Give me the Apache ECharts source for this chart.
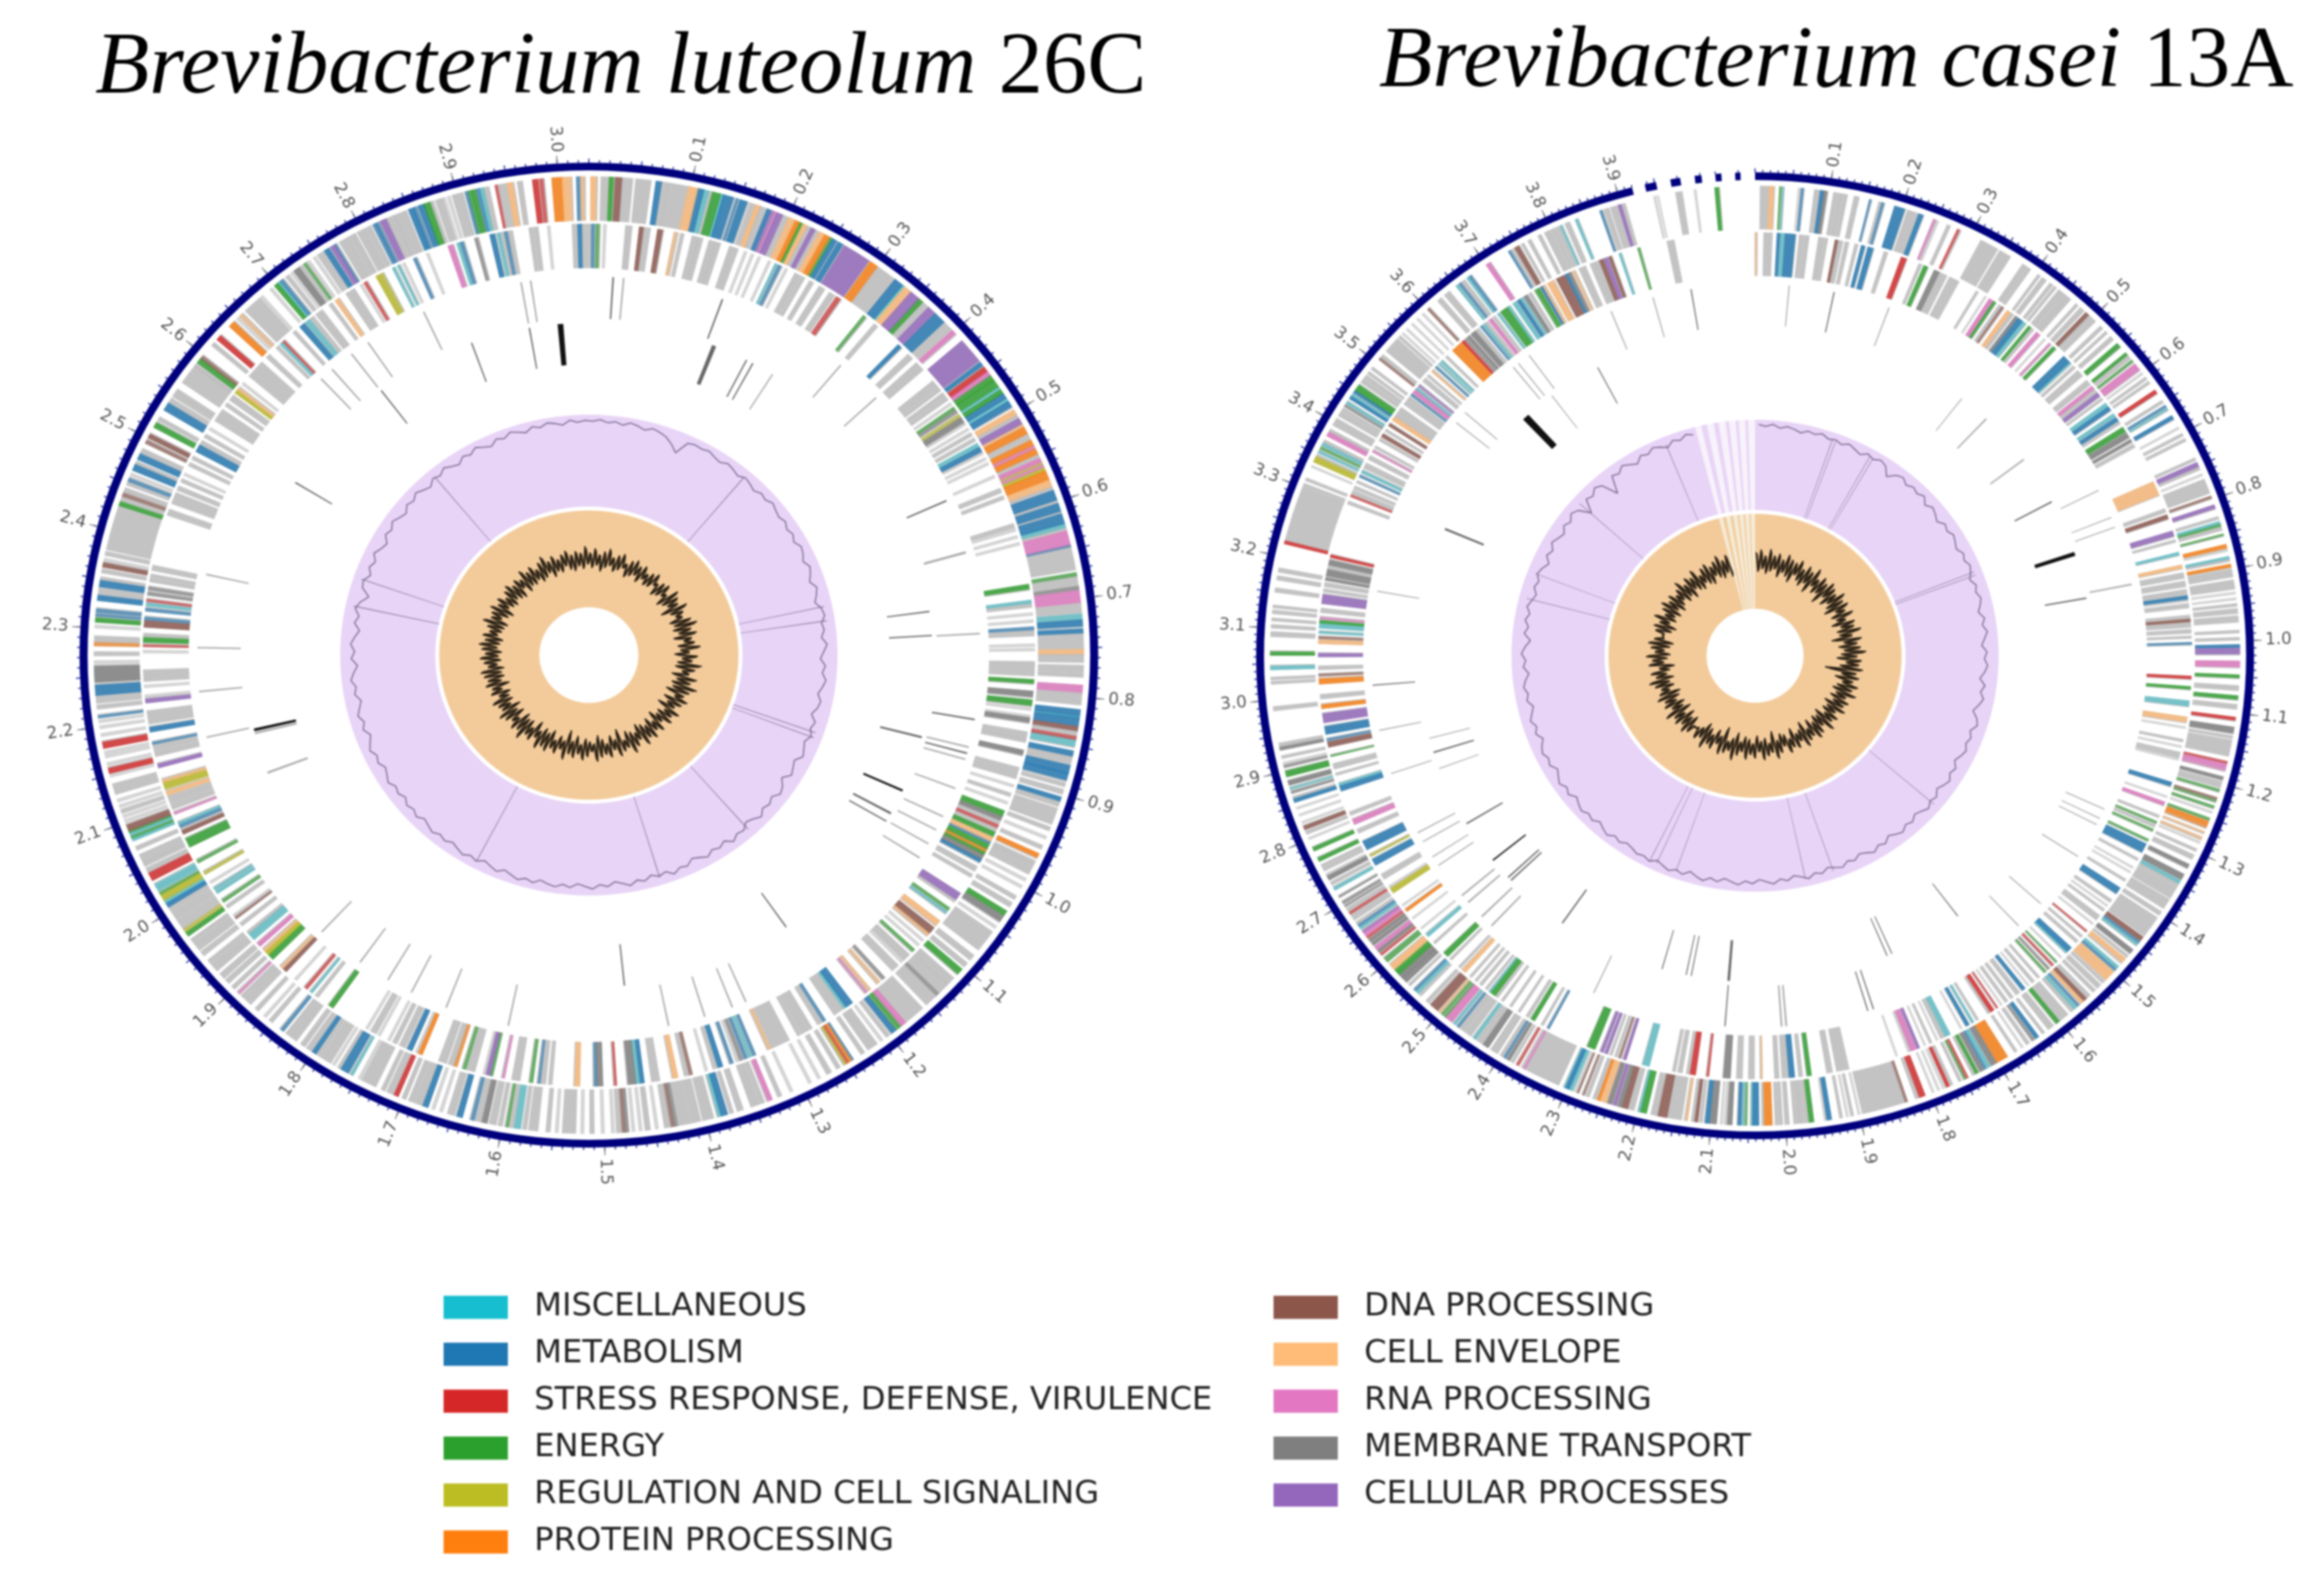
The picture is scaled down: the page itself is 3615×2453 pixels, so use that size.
<!DOCTYPE html>
<html><head><meta charset="utf-8">
<style>html,body{margin:0;background:#fff}#c{width:3615px;height:2453px;filter:blur(1.4px)}</style>
<script src="https://cdn.jsdelivr.net/npm/echarts@6/dist/echarts.min.js"></script>
</head><body><div id="c"></div>
<script>
const G=0,M=1,B=2,S=3,E=4,R=5,P=6,D=7,C=8,N=9,T=10,U=11;
const categories=['Unassigned','MISCELLANEOUS','METABOLISM','STRESS RESPONSE, DEFENSE, VIRULENCE','ENERGY','REGULATION AND CELL SIGNALING','PROTEIN PROCESSING','DNA PROCESSING','CELL ENVELOPE','RNA PROCESSING','MEMBRANE TRANSPORT','CELLULAR PROCESSES'];
const catColors=['#bdbdbd','#17becf','#1f77b4','#d62728','#2ca02c','#bcbd22','#ff7f0e','#8c564b','#ffbb78','#e377c2','#7f7f7f','#9467bd'];
const legendLeft=[1,2,3,4,5,6], legendRight=[7,8,9,10,11];
const L_TICKS=['0.1','0.2','0.3','0.4','0.5','0.6','0.7','0.8','0.9','1.0','1.1','1.2','1.3','1.4','1.5','1.6','1.7','1.8','1.9','2.0','2.1','2.2','2.3','2.4','2.5','2.6','2.7','2.8','2.9','3.0'];
const R_TICKS=['0.1','0.2','0.3','0.4','0.5','0.6','0.7','0.8','0.9','1.0','1.1','1.2','1.3','1.4','1.5','1.6','1.7','1.8','1.9','2.0','2.1','2.2','2.3','2.4','2.5','2.6','2.7','2.8','2.9','3.0','3.1','3.2','3.3','3.4','3.5','3.6','3.7','3.8','3.9'];
const L_CONTIGS=[[0,3030]];
const R_CONTIGS=[[0,3920],[3937,3952],[3971,3984],[4003,4012],[4030,4038],[4056,4063]];
// start kb, length kb, category
const L_OUTER=[2,5,C,12,6,G,20,4,E,26,6,D,32,10,G,46,14,G,66,5,B,71,6,G,78,20,G,98,9,C,107,6,B,113,5,M,118,3,G,122,8,E,130,3,M,133,10,B,146,2,B,150,7,B,160,6,G,166,4,C,170,6,G,178,4,B,182,3,U,185,3,N,188,6,U,195,6,G,201,6,C,207,5,P,212,4,E,216,4,C,220,5,G,225,4,U,229,5,G,234,5,C,239,6,P,245,3,E,248,5,B,255,5,B,262,28,U,292,8,P,300,22,G,322,9,B,331,3,M,334,8,C,342,10,U,352,5,E,358,5,G,365,8,U,374,12,B,388,8,G,398,4,N,412,26,U,440,4,B,446,6,S,452,4,N,456,6,E,462,8,E,470,4,M,474,4,E,478,6,B,484,4,M,488,6,B,498,5,C,503,5,G,508,6,U,514,3,C,518,7,P,525,8,G,533,6,P,539,3,N,542,6,P,548,5,G,553,4,N,557,3,R,560,3,N,563,4,R,567,10,P,577,6,C,583,5,G,588,10,B,598,4,G,602,8,B,610,3,G,613,10,B,623,4,M,627,4,G,631,14,N,645,2,B,648,22,G,674,3,E,677,12,G,688,3,T,692,12,N,706,8,G,716,5,M,722,6,B,731,4,B,737,14,G,752,4,C,756,8,G,768,6,G,776,3,G,788,7,N,797,10,G,813,6,B,819,2,M,821,8,B,830,4,D,834,6,G,840,3,S,843,7,M,855,5,B,860,8,G,870,8,B,878,7,B,888,3,G,895,4,G,903,4,B,908,4,G,915,16,G,935,3,G,945,2,G,955,3,G,964,4,P,972,3,G,976,10,G,992,2,G,1000,2,G,1012,3,G,1020,4,G,1030,5,E,1036,6,T,1048,2,G,1055,22,G,1085,5,G,1095,4,G,1103,6,E,1115,8,G,1124,10,G,1136,3,T,1140,12,G,1158,22,G,1180,5,N,1185,3,E,1188,3,E,1192,5,B,1200,3,G,1208,2,G,1215,10,G,1230,3,G,1243,2,B,1245,3,P,1248,3,S,1251,2,R,1258,3,G,1268,4,G,1280,2,G,1290,2,G,1310,2,G,1322,3,G,1332,4,N,1340,3,G,1345,8,G,1362,5,G,1372,3,G,1378,6,B,1384,3,M,1392,10,G,1405,8,G,1415,12,G,1428,3,T,1431,3,D,1434,6,G,1447,2,G,1455,4,G,1463,2,G,1470,2,G,1476,3,T,1479,3,D,1482,5,G,1490,2,G,1500,2,G,1510,3,G,1520,2,G,1528,12,G,1545,2,G,1553,3,G,1565,8,G,1576,3,G,1582,6,M,1590,3,G,1594,2,E,1600,3,G,1606,6,G,1615,5,T,1622,4,G,1628,3,B,1640,5,B,1648,6,G,1660,2,G,1668,2,G,1675,5,B,1682,6,G,1690,4,G,1698,3,G,1706,4,S,1712,5,G,1720,3,G,1730,14,G,1746,2,G,1755,2,M,1760,8,B,1768,3,G,1775,2,G,1780,10,G,1792,3,G,1797,4,B,1803,4,G,1810,4,G,1820,12,G,1836,3,B,1850,3,G,1858,2,G,1868,3,G,1878,12,G,1893,2,N,1900,3,G,1908,4,G,1915,5,G,1925,8,G,1935,3,G,1945,4,G,1952,8,G,1962,3,G,1970,4,E,1975,3,R,1980,8,G,1990,8,G,2000,5,G,2005,4,B,2009,4,M,2013,6,R,2019,3,E,2024,3,M,2028,3,M,2036,8,S,2046,3,G,2052,3,G,2056,8,G,2070,3,G,2080,3,M,2083,2,E,2086,3,M,2089,2,E,2091,6,D,2100,2,G,2105,2,G,2110,3,G,2116,2,G,2122,2,G,2130,10,G,2148,2,G,2152,5,S,2160,2,G,2168,2,G,2172,2,G,2178,6,S,2190,2,G,2198,2,G,2204,2,G,2209,2,B,2218,3,G,2224,8,G,2232,10,B,2245,16,T,2264,2,G,2272,3,G,2282,3,P,2287,4,G,2300,2,G,2306,4,E,2312,2,B,2316,3,B,2328,5,B,2335,6,G,2342,6,B,2348,3,G,2356,3,G,2362,4,D,2368,2,G,2374,3,G,2380,46,G,2426,4,E,2432,4,G,2436,3,D,2440,4,G,2448,3,G,2452,3,B,2458,2,G,2464,6,B,2470,3,G,2476,6,B,2484,3,G,2494,3,D,2500,4,D,2512,5,E,2520,3,G,2532,8,B,2542,3,G,2548,4,G,2553,3,G,2565,20,G,2585,4,G,2590,5,E,2595,3,D,2612,3,G,2620,5,S,2638,6,P,2648,2,G,2652,3,C,2660,18,G,2680,2,G,2692,2,G,2698,4,E,2702,3,M,2705,3,B,2712,3,G,2718,2,G,2722,6,T,2728,4,G,2734,2,E,2738,2,G,2745,2,G,2750,6,G,2758,5,B,2765,4,U,2769,2,B,2775,10,G,2787,5,G,2795,8,G,2805,4,G,2812,3,B,2815,3,B,2820,6,U,2826,8,G,2835,12,G,2850,5,B,2855,3,B,2860,6,B,2866,6,E,2872,3,G,2878,6,G,2885,2,G,2890,2,G,2895,10,G,2908,3,B,2911,3,E,2914,4,E,2919,3,B,2922,4,M,2926,5,G,2938,2,S,2942,8,G,2950,5,C,2960,4,G,2975,5,S,2982,3,S,2994,10,P,3004,8,C,3018,3,B,3022,3,C];
const L_INNER=[3012,4,G,3018,4,B,3024,4,G,0,3,G,3,3,B,8,3,E,16,2,G,40,6,G,55,4,D,59,7,G,75,5,D,93,3,C,100,3,G,113,6,G,120,4,G,132,6,G,139,5,G,155,9,G,172,2,G,180,2,G,188,2,G,200,2,G,208,2,M,212,3,B,220,2,G,232,6,G,240,3,G,250,4,G,262,6,G,275,6,G,284,2,S,287,2,S,320,3,E,335,4,G,370,4,B,385,6,G,398,10,G,425,8,G,435,3,G,442,4,G,448,3,G,456,2,G,462,3,E,466,3,T,472,3,R,476,6,T,483,2,G,490,2,G,496,3,G,503,3,G,510,4,M,515,5,B,521,2,G,528,2,G,534,2,G,550,2,G,566,4,G,575,3,G,608,4,G,614,2,G,622,2,G,630,2,G,678,5,E,696,3,M,700,3,G,710,2,G,718,2,G,726,3,B,731,4,G,745,2,G,750,2,G,765,15,G,785,4,E,798,6,T,808,6,E,817,2,G,825,2,G,828,5,T,844,7,G,852,3,G,865,5,T,885,12,G,905,2,G,915,3,G,925,2,G,936,6,E,943,4,T,948,5,G,953,3,S,957,4,G,962,5,E,968,5,C,973,3,B,977,6,E,983,3,P,986,4,E,990,5,T,995,4,B,1005,5,G,1015,3,G,1040,8,U,1048,3,G,1060,3,E,1065,2,M,1078,6,C,1088,8,D,1096,3,C,1105,2,G,1112,2,G,1120,3,E,1128,8,G,1138,2,G,1145,8,G,1165,3,T,1172,3,C,1185,3,C,1190,2,N,1210,8,B,1218,3,M,1223,10,G,1245,3,B,1250,4,G,1262,12,G,1276,3,G,1290,20,G,1312,3,C,1330,3,B,1335,3,M,1340,3,B,1345,3,T,1350,2,G,1356,3,B,1368,5,B,1375,3,G,1385,2,G,1402,3,D,1405,5,G,1418,5,C,1438,8,G,1455,4,B,1460,4,M,1464,8,T,1485,2,S,1500,6,T,1506,3,B,1525,5,C,1555,3,G,1562,6,G,1568,2,B,1576,3,E,1590,8,G,1607,2,N,1620,3,E,1623,4,U,1628,2,G,1640,8,G,1650,3,E,1660,3,P,1664,5,G,1672,8,G,1700,4,P,1705,2,G,1712,5,B,1720,6,G,1730,4,G,1738,2,G,1750,2,G,1755,6,G,1765,2,G,1810,5,E,1830,3,G,1838,2,M,1845,3,S,1860,2,G,1875,4,D,1880,3,C,1895,7,E,1902,5,R,1907,3,C,1915,4,N,1925,8,M,1933,3,G,1945,3,G,1955,2,D,1958,2,G,1970,3,G,1978,3,E,1990,3,M,1995,2,M,2003,2,G,2015,3,R,2030,3,E,2050,10,E,2066,4,D,2070,3,G,2074,3,B,2078,2,M,2090,2,N,2096,5,G,2103,8,G,2113,4,C,2120,8,R,2128,3,C,2145,4,U,2158,5,G,2165,8,G,2172,2,B,2186,5,B,2195,14,G,2219,4,U,2225,2,G,2236,2,G,2243,12,G,2275,2,G,2282,2,S,2287,5,E,2293,3,G,2304,7,D,2312,3,B,2322,3,B,2328,3,M,2333,2,S,2340,3,T,2346,3,T,2355,3,G,2360,3,G,2368,5,G,2432,6,G,2446,12,G,2462,4,G,2472,3,G,2480,2,G,2492,3,G,2500,3,G,2510,8,B,2520,3,G,2528,3,G,2538,2,G,2550,14,G,2570,3,G,2578,6,G,2588,4,R,2592,3,C,2600,2,G,2612,20,G,2640,4,G,2655,3,G,2661,3,M,2665,2,S,2680,3,G,2690,6,B,2698,5,M,2705,3,G,2712,8,G,2730,3,G,2738,4,C,2752,10,G,2770,2,G,2775,3,S,2790,4,R,2795,3,R,2810,2,M,2816,2,M,2822,2,G,2835,3,B,2850,2,G,2875,5,N,2885,3,M,2889,3,B,2905,3,T,2922,5,B,2930,3,M,2935,3,G,2938,3,B,2942,4,G,2965,3,G,2970,4,G,2985,2,G];
const R_OUTER=[7,11,G,19,6,C,33,2,E,37,1,M,58,2,G,62,3,B,80,8,G,88,5,B,93,4,T,106,4,G,112,6,G,120,4,G,134,6,G,155,2,B,168,3,G,172,3,B,190,14,B,208,16,G,224,6,B,245,3,N,250,2,G,265,4,G,280,3,S,283,2,G,315,25,G,344,16,G,380,6,G,388,4,G,405,3,G,412,6,G,425,4,G,432,3,G,440,8,G,450,10,G,470,3,G,478,6,G,488,5,D,494,4,G,500,5,G,515,4,G,525,3,G,535,5,G,548,6,E,565,4,E,570,5,G,578,3,E,585,10,N,600,2,G,608,3,G,615,3,G,630,5,S,647,3,G,655,3,B,660,2,M,672,5,B,690,2,G,700,3,G,708,3,G,738,3,G,745,6,U,752,3,G,762,2,G,770,20,G,795,3,D,808,5,U,825,3,G,832,4,M,836,3,E,841,3,G,850,2,E,865,5,P,872,2,G,882,3,M,885,3,G,893,4,P,900,10,G,915,12,G,932,2,G,940,2,G,948,3,G,955,6,G,965,8,G,985,3,G,995,3,G,1005,4,B,1010,8,U,1028,8,N,1047,4,E,1062,6,G,1076,5,E,1088,6,G,1106,4,S,1120,8,T,1132,3,G,1138,22,G,1168,3,S,1172,5,N,1178,3,N,1190,4,T,1197,8,G,1208,3,E,1220,3,D,1224,2,E,1232,3,E,1240,2,G,1250,3,E,1255,5,P,1261,3,P,1270,2,C,1278,3,C,1285,2,G,1296,3,G,1305,6,G,1320,5,T,1335,8,T,1345,4,M,1350,4,G,1356,16,G,1375,14,G,1395,5,G,1405,30,G,1438,6,D,1445,3,B,1449,3,M,1460,6,T,1470,3,G,1476,6,C,1483,2,G,1490,4,M,1495,3,B,1500,4,C,1505,10,C,1518,3,G,1525,6,G,1535,4,G,1545,6,G,1552,5,D,1558,4,C,1565,3,B,1570,4,M,1576,3,G,1585,14,G,1600,5,E,1610,8,G,1625,3,G,1635,5,B,1642,3,T,1650,4,G,1660,2,G,1670,3,G,1685,16,P,1702,8,T,1712,5,M,1718,3,B,1722,5,T,1730,4,E,1735,3,G,1745,3,S,1749,2,E,1755,3,G,1768,3,G,1773,4,S,1780,2,G,1787,2,G,1795,2,G,1808,8,S,1818,3,G,1833,3,D,1836,59,G,1899,2,G,1908,3,G,1915,2,G,1923,3,G,1938,6,B,1945,2,G,1962,6,E,1970,3,G,1975,8,G,1985,3,G,1995,5,G,2004,4,G,2010,3,G,2018,10,P,2028,3,G,2036,8,B,2044,2,M,2052,2,E,2056,2,M,2060,4,B,2072,6,T,2080,2,G,2085,2,G,2093,8,T,2102,6,B,2112,3,G,2118,4,D,2123,3,G,2132,3,C,2140,20,G,2160,12,D,2173,8,G,2188,8,E,2196,3,M,2205,8,G,2214,8,D,2222,6,T,2230,4,U,2236,6,T,2244,8,C,2252,4,P,2258,4,G,2268,4,G,2275,2,D,2283,2,D,2288,2,G,2292,5,M,2297,5,B,2302,2,M,2312,50,G,2362,3,N,2366,2,G,2372,3,S,2380,3,G,2386,4,T,2392,3,B,2396,4,G,2405,10,G,2420,8,T,2430,8,G,2440,4,M,2448,8,G,2458,8,G,2468,3,B,2474,3,M,2480,10,N,2490,3,E,2495,3,E,2500,3,C,2505,12,D,2518,2,G,2522,3,G,2535,3,G,2540,4,M,2545,3,B,2555,3,G,2562,8,T,2570,6,T,2576,4,E,2580,6,E,2586,4,C,2590,5,C,2600,3,E,2604,3,E,2612,3,S,2617,4,T,2622,5,N,2630,4,T,2636,4,T,2642,3,S,2646,6,N,2652,3,U,2658,3,M,2662,3,B,2666,3,G,2673,10,G,2683,3,S,2688,4,G,2695,2,T,2700,3,T,2710,2,T,2722,4,M,2730,4,G,2738,6,T,2745,2,G,2752,3,G,2757,4,G,2767,5,E,2783,5,E,2800,2,G,2808,4,G,2815,5,D,2824,2,G,2835,2,G,2845,2,G,2855,5,B,2860,3,G,2868,3,T,2874,2,M,2880,6,T,2892,8,E,2905,3,T,2910,2,G,2918,3,G,2930,4,T,2936,3,G,2985,5,G,3022,3,G,3028,3,G,3042,5,M,3062,5,E,3088,6,G,3100,4,G,3110,3,G,3120,4,G,3128,3,G,3150,5,G,3167,5,G,3178,5,G,3218,4,S,3222,78,G,3302,3,G,3310,3,G,3330,2,G,3338,8,R,3346,3,G,3352,3,M,3358,3,E,3363,4,M,3368,3,G,3378,6,N,3385,3,G,3395,10,G,3410,6,G,3418,4,G,3425,3,T,3430,3,M,3438,4,B,3443,3,M,3448,4,B,3452,4,E,3457,4,E,3465,5,G,3472,5,G,3480,3,G,3488,3,G,3505,3,D,3510,3,G,3520,22,G,3545,3,G,3552,2,G,3560,2,G,3570,2,G,3580,2,G,3590,2,G,3600,3,D,3618,6,G,3630,8,G,3650,3,M,3655,3,B,3660,4,G,3668,3,M,3672,3,B,3700,6,N,3735,3,B,3740,3,G,3745,6,D,3755,3,G,3765,4,G,3780,4,G,3790,8,G,3800,5,G,3807,4,G,3813,2,M,3820,6,G,3835,3,M,3870,3,B,3876,6,G,3885,10,G,3896,4,U,3902,3,G,3945,2,G,3950,1,G,3975,8,G,4000,2,G,4028,5,E];
const R_INNER=[0,2,C,13,12,G,33,4,B,38,6,M,45,8,B,54,6,B,66,6,G,74,6,G,95,8,G,105,3,G,120,4,D,125,6,G,135,5,G,150,4,G,160,5,B,170,8,B,195,5,G,222,8,S,250,4,G,258,6,E,275,8,T,285,10,G,300,15,G,345,3,G,360,2,G,368,6,N,375,4,E,385,5,G,390,3,D,400,6,C,408,3,G,415,4,T,420,8,B,428,6,M,440,4,E,445,4,G,455,6,N,470,2,G,480,3,N,488,5,E,510,12,B,522,3,M,530,4,G,540,10,G,560,8,G,572,5,N,578,5,G,585,6,U,595,3,G,605,6,M,612,6,B,625,5,M,632,6,B,640,3,G,650,8,E,660,8,T,672,4,T,680,5,G,745,22,C,790,5,G,800,6,D,826,8,U,840,3,G,860,4,M,880,5,C,892,8,G,905,8,G,918,10,G,928,5,B,934,2,G,940,6,G,958,6,G,964,4,D,970,6,G,980,5,G,990,3,G,1000,3,B,1052,4,S,1068,4,E,1090,8,M,1115,8,C,1130,2,G,1150,3,G,1160,2,G,1170,8,G,1180,2,G,1218,6,B,1240,2,G,1250,5,N,1272,3,G,1282,3,E,1288,3,G,1295,3,E,1312,3,E,1320,14,B,1345,3,G,1360,2,G,1368,2,G,1382,3,G,1398,10,B,1420,4,G,1430,2,G,1438,3,G,1450,8,G,1465,2,G,1480,2,S,1490,3,G,1500,4,G,1515,8,B,1523,3,M,1535,2,G,1545,2,E,1552,3,S,1560,3,T,1567,3,E,1580,3,G,1590,4,G,1600,2,G,1608,5,B,1618,6,G,1630,4,G,1640,4,G,1650,2,G,1658,2,S,1665,6,S,1672,3,G,1692,3,G,1700,3,M,1708,5,B,1720,2,G,1740,8,M,1750,5,G,1760,2,G,1770,3,G,1780,2,G,1790,4,U,1796,8,N,1806,2,G,1825,2,G,1900,18,G,1925,8,G,1957,6,E,1970,5,G,1982,8,B,1992,8,G,2005,6,G,2030,2,C,2042,8,G,2060,8,G,2078,10,T,2110,3,S,2130,8,S,2140,3,G,2150,6,G,2160,4,G,2200,10,M,2236,4,U,2244,3,D,2250,3,G,2258,3,G,2265,4,U,2272,4,U,2285,12,E,2360,3,B,2370,3,G,2385,6,E,2395,4,G,2410,3,G,2425,3,G,2440,3,G,2450,3,G,2455,8,E,2463,3,M,2470,3,G,2480,4,G,2490,3,G,2500,3,G,2512,6,C,2522,3,G,2540,3,G,2548,8,E,2575,3,G,2590,5,M,2605,2,G,2625,2,G,2640,4,P,2650,2,G,2675,8,R,2685,2,G,2700,8,G,2725,10,B,2740,3,R,2752,14,B,2780,6,G,2795,8,N,2810,5,G,2850,8,B,2858,4,M,2875,3,G,2885,8,G,2905,2,E,2920,8,D,2930,3,B,2940,12,B,2958,14,U,2980,6,P,2995,6,G,3018,8,P,3030,3,D,3040,5,G,3060,5,U,3080,6,C,3088,3,D,3096,3,M,3104,8,M,3112,4,E,3118,3,N,3128,6,G,3142,14,U,3160,4,G,3168,6,G,3178,4,T,3185,10,T,3196,4,G,3202,8,T,3214,4,S,3300,4,G,3312,3,S,3316,6,G,3325,4,G,3335,3,G,3345,3,B,3352,4,M,3360,8,G,3375,6,G,3388,3,N,3395,3,G,3408,4,G,3415,5,D,3425,3,G,3435,4,D,3445,6,C,3452,16,G,3475,14,G,3492,3,B,3497,6,N,3504,3,M,3510,3,U,3520,6,G,3530,3,G,3540,3,C,3548,3,B,3555,2,M,3560,3,M,3570,3,G,3585,18,P,3604,4,S,3610,3,T,3615,4,T,3622,8,T,3632,4,G,3640,3,B,3645,3,M,3650,3,G,3656,5,N,3664,3,G,3672,3,M,3678,6,E,3685,5,E,3691,3,M,3700,6,M,3708,5,B,3715,3,M,3720,5,T,3728,4,G,3738,3,E,3742,4,E,3748,4,B,3752,3,C,3760,10,C,3775,14,D,3790,4,B,3795,4,T,3802,3,C,3812,10,G,3830,14,G,3845,6,D,3852,6,U,3860,4,D,3876,3,M,3905,3,E,3950,10,G];
// position kb, width kb, shade (0 grey, 1 dark, 2 black)
const L_RING3=[30,2,1,43,2,0,168,2,1,337,2,0,397,2,0,555,2,1,625,3,0,730,2,0,840,2,1,876,2,0,884,2,1,892,2,0,931,2,0,970,2,0,989,2,0,1009,2,0,1030,2,0,1316,2,0,1334,2,0,1370,2,0,1416,2,0,1615,2,0,1695,2,0,1742,2,0,1775,2,0,1816,2,0,1877,2,0,2167,2,0,2226,2,0,2282,2,0,2376,2,0,2667,2,0,2685,2,0,2716,2,0,2741,2,0,2820,2,0,2946,2,0,2958,2,0];
const L_RING4=[180,6,1,230,2,1,240,2,1,272,2,0,694,2,1,729,2,1,878,3,1,960,3,2,997,3,1,1010,2,1,1220,2,1,1465,2,1,2098,3,0,2158,3,0,2163,4,2,2536,2,1,2717,2,1,2862,2,1,2946,2,1,2990,8,2];
const R_RING3=[58,2,0,135,2,1,232,2,0,721,2,0,773,2,0,791,2,0,895,3,0,1297,2,0,1315,2,0,1327,2,0,1391,2,0,1495,2,0,1549,2,0,1837,2,1,1847,2,1,1988,3,0,1996,3,0,2092,2,1,2323,2,0,2533,3,0,2556,3,0,2590,3,0,2606,3,0,2672,2,0,2690,2,0,2721,2,0,2739,2,0,2852,2,0,2930,2,0,3010,2,1,3175,2,0,3502,2,0,3525,2,0,3639,2,0,3650,2,0,3673,2,0,3832,2,0,3907,2,0,3973,2,1];
const R_RING4=[430,2,0,492,3,0,601,3,0,701,3,1,814,8,2,905,3,1,1621,2,1,1769,2,1,1779,2,1,2092,5,1,2165,2,1,2175,2,1,2223,2,1,2437,3,1,2568,3,1,2576,3,1,2621,3,2,2710,3,1,2832,2,0,2866,3,1,2895,2,0,3321,4,1,3595,14,2,3661,2,0,3766,2,1];
// radial dips of the GC content trace, kb
const L_DIPS=[337,655,685,921,932,1165,1370,1748,2374,2432,2693];
const R_DIPS=[216,226,330,340,775,785,1480,1820,1900,2262,2320,2340,3225,3300,3535,3829];
// GC content trace, radius in thousandths, evenly spaced round the contigs
const L_GC=[476,478,475,477,474,478,476,473,477,475,472,466,458,474,476,475,477,474,472,476,474,471,475,473,470,474,472,476,473,471,474,470,473,469,474,472,468,473,470,466,472,469,465,471,473,468,470,466,472,468,464,470,467,472,469,465,470,468,463,470,467,471,466,469,472,465,468,471,463,470,473,467,471,468,474,469,466,472,470,475,468,472,469,474,470,467,473,471,476,470,473,469,474,471,476,472,469,474,471,476,473,470,475,472,476,474,471,476,473,477,474,471,476,473,470,475,472,476,473,470,474,471,475,472,469,474,470,473,468,472,469,474,470,467,472,469,474,470,466,472,468,473,469,465,471,468,473,469,464,471,467,472,468,463,470,466,472,468,460,470,472,466,471,467,473,468,465,472,469,474,470,467,473,470,475,471,468,474,471,476,472,469,475,472,477,473,470,476,473,478,475,472,477,474,478,476,473,478,475,477];
const R_GC=[478,476,479,475,478,476,473,477,475,478,474,476,473,477,474,471,476,473,477,474,464,472,475,470,474,471,475,468,473,470,466,472,469,473,470,467,472,469,473,470,466,471,468,472,469,465,471,467,472,468,464,470,467,471,468,463,470,466,471,467,462,469,472,466,470,467,471,468,464,470,467,472,469,465,471,468,473,469,466,471,468,473,470,466,472,469,474,470,467,472,469,474,471,468,473,470,475,471,468,473,470,475,472,469,474,471,476,473,470,475,472,477,474,470,476,473,477,474,471,476,473,475,472,470,474,471,476,473,469,474,471,475,472,468,474,470,475,471,467,473,470,474,471,466,472,468,473,469,465,471,468,472,469,464,470,467,472,468,462,470,466,471,467,472,468,465,470,467,472,469,464,471,467,473,469,466,472,468,474,470,456,472,469,475,471,452,473,470,476,472,468,475,472,477,474,470,476,473,478,475];
// GC skew trace, radius in thousandths, evenly spaced round the contigs
const L_SKEW=[206,184,212,188,204,180,209,186,214,190,203,183,208,187,212,192,200,181,207,185,211,189,205,182,209,190,201,184,206,186,210,193,199,181,205,185,208,190,197,178,212,183,207,188,203,175,213,186,204,191,200,180,210,184,216,181,206,187,212,179,204,192,207,183,214,186,199,178,210,188,203,182,216,180,208,190,201,177,213,185,206,180,217,183,209,176,204,191,212,178,207,186,200,175,211,189,204,182,209,184,198,176,208,188,202,179,210,186,205,181,212,177,200,187,207,183,214,179,203,190,206,172,211,185,200,178,209,188,204,181,207,175,212,186,198,183,205,179,210,187,202,176,208,184,204,170,213,186,200,181,208,189,203,177,210,183,206,179,212,186,199,175,207,188,203,180,214,182,205,177,209,190,201,178,207,184,212,176,203,187,205,181,210,183,197,179,206,188,202,176,209,185,204,180,208,182,211,178,200,186,205,181,210,184,203,180,208,186,212,183,205,180,209,188,201,184,206,182,214,179,205,190,207,183,212,178,204,188,209,184,200,181,207,186,211,182,204,179,208,190,203,180,213,185,206,183,210,187,202,181,209,184,215,188,205,180,210,186,203,183,208,190,212,184,205,181,209,187,206,183,215,189];
const R_SKEW=[210,182,214,186,206,180,216,184,208,188,212,178,205,186,214,182,209,176,207,189,213,183,203,178,211,185,206,174,215,188,202,180,210,184,205,172,212,187,208,178,204,186,214,181,207,175,211,189,203,180,212,185,198,176,209,187,206,180,214,182,200,170,212,186,205,178,209,185,216,181,204,175,210,188,207,180,213,160,205,184,210,176,203,188,212,182,206,178,214,185,202,179,209,186,205,176,211,183,200,180,208,187,204,175,213,181,199,178,207,185,211,177,203,188,206,174,212,183,200,186,208,176,204,189,210,181,198,178,206,186,213,172,203,188,207,180,212,184,200,176,209,187,204,181,211,178,201,186,207,174,215,183,203,189,208,170,212,185,199,178,209,188,205,181,214,176,202,186,207,190,194,192,206,180,211,185,203,177,209,188,205,175,214,183,200,178,208,187,204,180,212,176,206,189,201,181,208,185,214,178,203,186,209,181,196,174,210,188,205,183,213,179,201,187,207,180,211,176,204,190,193,191,205,182,209,177,203,188,213,181,200,185,207,179,212,186,204,178,209,183,201,188,206,180,214,184,203,177,210,187,205,182,213,179,200,186,208,181,211,178,204,188,209,183,215,180,206,186,212,179];

const genomes=[
 {outer:L_OUTER,inner:L_INNER,ring3:L_RING3,ring4:L_RING4,dips:L_DIPS,gc:L_GC,skew:L_SKEW,ticks:L_TICKS,contigs:L_CONTIGS,len:3030,cx:916,cy:1019,rx:786,ry:760},
 {outer:R_OUTER,inner:R_INNER,ring3:R_RING3,ring4:R_RING4,dips:R_DIPS,gc:R_GC,skew:R_SKEW,ticks:R_TICKS,contigs:R_CONTIGS,len:4082,cx:2730,cy:1020,rx:770,ry:746}
];
const BANDS={outer:[.889,.98],inner:[.792,.883],ring3:[.689,.775],ring4:[.595,.68]};
const series=[];
const xy=(g,kb,r)=>{const t=kb/g.len*2*Math.PI;return [r*Math.sin(t),r*Math.cos(t)];};
function arcSeries(gi,name,color,rows,z){
 const g=genomes[gi];
 series.push({type:'custom',name,coordinateSystem:'cartesian2d',xAxisIndex:gi,yAxisIndex:gi,data:rows,encode:{x:0,y:1},silent:true,animation:false,progressive:0,clip:false,z:z||2,itemStyle:{color},
  renderItem(p,api){
   const s=api.value(0),l=api.value(1),r0=api.value(2),r1=api.value(3),o=api.value(4);
   const n=Math.max(1,Math.ceil(l/g.len*360/2)),pts=[];
   for(let i=0;i<=n;i++)pts.push(api.coord(xy(g,s+l*i/n,r1)));
   for(let i=n;i>=0;i--)pts.push(api.coord(xy(g,s+l*i/n,r0)));
   return {type:'polygon',shape:{points:pts},style:{fill:color,opacity:o}};
  }});
}
genomes.forEach((g,gi)=>{
 arcSeries(gi,'lilac base','#f8f2fb',[[0,g.len,.30,.492,1]],1);
 arcSeries(gi,'orange base','#f4ecd9',[[0,g.len,.098,.30,1]],1);
 arcSeries(gi,'GC content','#e8d4f6',g.contigs.map(c=>[c[0],c[1]-c[0],.30,.492,1]),1);
 arcSeries(gi,'GC skew','#f3cb9b',g.contigs.map(c=>[c[0],c[1]-c[0],.098,.30,1]),1);
 arcSeries(gi,'divider','#ffffff',[[0,g.len,.296,.304,1]],1);
 arcSeries(gi,'backbone','#00007d',g.contigs.map(c=>[c[0],c[1]-c[0],.992,1.008,1]),3);
 // gene stripes: each gene is laid over a soft grey underlay, which gives the washed look of the reference
 categories.forEach((name,ci)=>{
  const rows=[];
  for(const k of ['outer','inner']){
   const a=g[k];
   for(let i=0;i<a.length;i+=3){
    const l=a[i+1]+1.2, cat=a[i+2];
    if(ci===0) rows.push([a[i]-.6,l+(cat===0?.8:1.4),BANDS[k][0],BANDS[k][1],cat===0&&l<4?.65:.9]);
    else if(cat===ci) rows.push([a[i]-.6,l,BANDS[k][0],BANDS[k][1],ci===1?.45:(l<4.5?.6:.78)]);
   }
  }
  arcSeries(gi,name,catColors[ci],rows,ci===0?2:3);
 });
 const shades=['#a9a9a9','#666666','#111111'];
 shades.forEach((col,si)=>{
  const rows=[];
  for(const k of ['ring3','ring4']){
   const a=g[k];
   for(let i=0;i<a.length;i+=3) if(a[i+2]===si) rows.push([a[i]-a[i+1]/2,a[i+1],BANDS[k][0],BANDS[k][1],1]);
  }
  arcSeries(gi,'RNA genes '+si,col,rows,3);
 });
 arcSeries(gi,'GC dips','#85779a',g.dips.map(k=>[k,1.8,.303,.476,1]),3);
 const total=g.contigs[0][1];
 const trace=(vals,name,color,w,mean,gain,phase)=>{
  const data=vals.map((v,i)=>xy(g,(i+phase)/vals.length*total,(mean+(v-mean)*gain)/1000));
  if(g.contigs.length===1)data.push(data[0]);
  series.push({type:'line',name,xAxisIndex:gi,yAxisIndex:gi,data,showSymbol:false,silent:true,animation:false,z:4,lineStyle:{color,width:w},clip:false,progressive:0});
 };
 trace(g.gc,'GC trace','#76668f',1.8,472,1.7,.5);
 trace(g.skew,'Skew trace','rgba(25,18,10,.92)',2.2,197,1.45,.5);
 trace(g.skew,'Skew trace b','rgba(25,18,10,.7)',1.8,197,1.2,1.0);
 const ticks=[];
 for(let k=0;k<g.len;k+=10){ if(g.contigs.some(c=>k>=c[0]&&k<=c[1])) ticks.push([k,1.008,k%50===0?1.016:1.013]); }
 const names=g.ticks;
 series.push({type:'custom',name:'minor ticks',coordinateSystem:'cartesian2d',xAxisIndex:gi,yAxisIndex:gi,data:ticks,encode:{x:0,y:1},silent:true,animation:false,progressive:0,clip:false,z:2,
  renderItem(p,api){const a=api.coord(xy(g,api.value(0),api.value(1))),b=api.coord(xy(g,api.value(0),api.value(2)));
   return {type:'line',shape:{x1:a[0],y1:a[1],x2:b[0],y2:b[1]},style:{stroke:'#2a3aa0',lineWidth:2}};}});
 series.push({type:'custom',name:'major ticks',coordinateSystem:'cartesian2d',xAxisIndex:gi,yAxisIndex:gi,data:names.map((t,i)=>[parseFloat(t)*1000,i]),encode:{x:0,y:1},silent:true,animation:false,progressive:0,clip:false,z:5,
  renderItem(p,api){
   const kb=api.value(0),t=kb/g.len*2*Math.PI,txt=names[api.value(1)];
   const a=api.coord(xy(g,kb,1.008)),b=api.coord(xy(g,kb,1.024)),c=api.coord(xy(g,kb,1.058));
   const rot=t<=Math.PI?Math.PI/2-t:3*Math.PI/2-t;
   return {type:'group',children:[
    {type:'line',shape:{x1:a[0],y1:a[1],x2:b[0],y2:b[1]},style:{stroke:'#777',lineWidth:1.5}},
    {type:'text',x:c[0],y:c[1],rotation:rot,style:{text:txt,fontFamily:'DejaVu Sans',fontSize:26,fill:'#555',align:'center',verticalAlign:'middle'}}
   ]};
  }});
});
const titleRich=s=>({i:{fontFamily:'Liberation Serif',fontStyle:'italic',fontWeight:'normal',fontSize:s,color:'#000'},n:{fontFamily:'Liberation Serif',fontWeight:'normal',fontSize:s,color:'#000'}});
const title=[
 {left:143,top:34,text:'{i|Brevibacterium luteolum}{n| 26C}',textStyle:{fontWeight:'normal',rich:titleRich(138)}},
 {left:2140,top:25,text:'{i|Brevibacterium casei}{n| 13A}',textStyle:{fontWeight:'normal',rich:titleRich(136)}}
];
const leg=(ids,left)=>({left,top:1999,orient:'vertical',icon:'rect',itemWidth:100,itemHeight:36,itemGap:14,selectedMode:false,data:ids.map(i=>categories[i]),textStyle:{fontFamily:'DejaVu Sans',fontSize:50,color:'#222',padding:[0,0,0,36],lineHeight:59}});
const grid=genomes.map(g=>({left:g.cx-g.rx,top:g.cy-g.ry,width:2*g.rx,height:2*g.ry,show:false}));
const axis=genomes.map((g,i)=>({type:'value',gridIndex:i,min:-1,max:1,show:false}));
const chart=echarts.init(document.getElementById('c'));
chart.setOption({backgroundColor:'#fff',animation:false,title,grid,xAxis:axis,yAxis:axis,legend:[leg(legendLeft,685),leg(legendRight,1976)],series});
</script></body></html>
